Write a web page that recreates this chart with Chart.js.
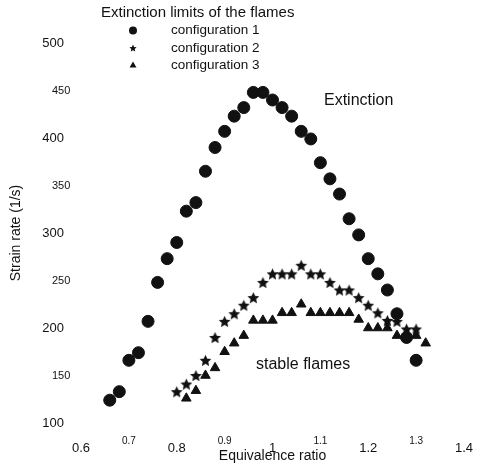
<!DOCTYPE html>
<html>
<head>
<meta charset="utf-8">
<script src="https://cdn.jsdelivr.net/npm/chart.js@4"></script>
<style>
  body { margin: 0; background: #fff; }
  #wrap { width: 480px; height: 474px; }
</style>
</head>
<body>
<div id="wrap"><canvas id="chart"></canvas></div>
<script>
// equivalence ratio / extinction strain rate
const phi1 = [0.66, 0.68, 0.70, 0.72, 0.74, 0.76, 0.78, 0.80, 0.82, 0.84, 0.86, 0.88, 0.90, 0.92, 0.94, 0.96, 0.98,
              1.00, 1.02, 1.04, 1.06, 1.08, 1.10, 1.12, 1.14, 1.16, 1.18, 1.20, 1.22, 1.24, 1.26, 1.28, 1.30];
const rate1 = [124, 133, 166, 174, 207, 248, 273, 290, 323, 332, 365, 390, 407, 423, 432, 448, 448,
               440, 432, 423, 407, 399, 374, 357, 341, 315, 298, 273, 257, 240, 215, 190, 166];

const phi2 = [0.80, 0.82, 0.84, 0.86, 0.88, 0.90, 0.92, 0.94, 0.96, 0.98, 1.00, 1.02, 1.04,
              1.06, 1.08, 1.10, 1.12, 1.14, 1.16, 1.18, 1.20, 1.22, 1.24, 1.26, 1.28, 1.30];
const rate2 = [133, 141, 150, 166, 190, 207, 215, 224, 232, 248, 257, 257, 257,
               266, 257, 257, 248, 240, 240, 232, 224, 216, 208, 207, 199, 199];

const phi3 = [0.82, 0.84, 0.86, 0.88, 0.90, 0.92, 0.94, 0.96, 0.98, 1.00, 1.02, 1.04, 1.06,
              1.08, 1.10, 1.12, 1.14, 1.16, 1.18, 1.20, 1.22, 1.24, 1.26, 1.28, 1.30, 1.32];
const rate3 = [126, 134, 150, 158, 175, 184, 192, 208, 208, 208, 216, 216, 225,
               216, 216, 216, 216, 216, 209, 200, 200, 200, 192, 192, 192, 184];

const seriesLabels = ["configuration 1", "configuration 2", "configuration 3"];
const legendTitle = "Extinction limits of the flames";

const xMajorTicks = [0.6, 0.8, 1, 1.2, 1.4];
const xMinorTicks = [0.7, 0.9, 1.1, 1.3];
const yMajorTicks = [100, 200, 300, 400, 500];
const yMinorTicks = [150, 250, 350, 450];

// text notes placed in data coordinates
const noteTexts = ["Extinction", "stable flames"];
const noteX = [1.18, 1.064];
const noteY = [439, 162];

const FONT = "'Liberation Sans', Arial, sans-serif";
const INK = "#111";

// filled five point star, used as an image point style
function starImage(r) {
  const c = document.createElement("canvas");
  const s = Math.ceil(r * 2 + 2);
  c.width = s;
  c.height = s;
  const g = c.getContext("2d");
  g.fillStyle = INK;
  g.beginPath();
  for (let i = 0; i < 10; i++) {
    const rr = i % 2 ? r * 0.47 : r;
    const a = -Math.PI / 2 + i * Math.PI / 5;
    g.lineTo(s / 2 + rr * Math.cos(a), s / 2 + r * 0.1 + rr * Math.sin(a));
  }
  g.closePath();
  g.fill();
  return c;
}

const legendStyles = ["circle", starImage(3.8), "triangle"];

function toPoints(xs, ys) {
  return xs.map((x, i) => ({ x: x, y: ys[i] }));
}

const extras = {
  id: "extras",
  afterDatasetsDraw(chart) {
    const ctx = chart.ctx;
    const xs = chart.scales.x;
    const ys = chart.scales.y;
    ctx.save();
    ctx.fillStyle = INK;
    ctx.strokeStyle = INK;
    ctx.lineWidth = 1;
    ctx.textBaseline = "middle";

    ctx.textAlign = "center";
    ctx.font = "16px " + FONT;
    noteTexts.forEach((t, i) => {
      ctx.fillText(t, xs.getPixelForValue(noteX[i]), ys.getPixelForValue(noteY[i]));
    });

    // legend block
    ctx.textAlign = "left";
    ctx.font = "15px " + FONT;
    ctx.fillText(legendTitle, 101, 13);
    ctx.font = "13.5px " + FONT;
    chart.data.datasets.forEach((ds, i) => {
      const y = 30.5 + i * 17.5;
      Chart.helpers.drawPoint(ctx, { pointStyle: legendStyles[i], radius: 4, rotation: 0, borderWidth: 0 }, 133, y);
      ctx.fillText(ds.label, 171, y);
    });
    ctx.restore();
  },
};

const hidden = { display: false, drawTicks: false };

const ctx = document.getElementById("chart").getContext("2d");
const chart = new Chart(ctx, {
  type: "scatter",
  data: {
    datasets: [
      {
        label: seriesLabels[0],
        data: toPoints(phi1, rate1),
        pointStyle: "circle",
        pointRadius: 6,
        backgroundColor: INK,
        borderColor: INK,
        borderWidth: 1,
      },
      {
        label: seriesLabels[1],
        data: toPoints(phi2, rate2),
        pointStyle: starImage(6.2),
        pointRadius: 6,
        backgroundColor: INK,
        borderColor: INK,
      },
      {
        label: seriesLabels[2],
        data: toPoints(phi3, rate3),
        pointStyle: "triangle",
        pointRadius: 5.5,
        backgroundColor: INK,
        borderColor: INK,
        borderWidth: 1,
      },
    ],
  },
  options: {
    responsive: true,
    maintainAspectRatio: false,
    animation: false,
    events: [],
    layout: { padding: { top: 43, right: 16, bottom: 0, left: 0 } },
    plugins: {
      legend: { display: false },
      tooltip: { enabled: false },
    },
    scales: {
      x: {
        type: "linear",
        position: "bottom",
        weight: 1,
        min: 0.6,
        max: 1.4,
        grid: hidden,
        border: { display: false },
        afterBuildTicks: (s) => { s.ticks = xMajorTicks.map((v) => ({ value: v })); },
        afterFit: (s) => { s.height = 37; },
        ticks: {
          autoSkip: false,
          maxRotation: 0,
          padding: 4,
          color: INK,
          font: { family: FONT, size: 13 },
          callback: (v) => String(v),
        },
        title: {
          display: true,
          text: "Equivalence ratio",
          color: INK,
          font: { family: FONT, size: 14 },
          padding: { top: 0, bottom: 9 },
        },
      },
      // odd ticks sit a little higher and smaller; mirrored so they are not clipped
      x2: {
        type: "linear",
        position: "bottom",
        weight: 0,
        min: 0.6,
        max: 1.4,
        grid: hidden,
        border: { display: false },
        afterBuildTicks: (s) => { s.ticks = xMinorTicks.map((v) => ({ value: v })); },
        afterFit: (s) => { s.height = 14; },
        ticks: {
          autoSkip: false,
          maxRotation: 0,
          mirror: true,
          padding: -24.5,
          color: INK,
          font: { family: FONT, size: 10 },
          callback: (v) => String(v),
        },
      },
      y: {
        type: "linear",
        position: "left",
        weight: 1,
        min: 100,
        max: 500,
        grid: hidden,
        border: { display: false },
        afterBuildTicks: (s) => { s.ticks = yMajorTicks.map((v) => ({ value: v })); },
        afterFit: (s) => { s.width = 81; },
        ticks: {
          autoSkip: false,
          padding: 17,
          color: INK,
          font: { family: FONT, size: 13 },
          callback: (v) => String(v),
        },
        title: {
          display: true,
          text: "Strain rate (1/s)",
          color: INK,
          font: { family: FONT, size: 14 },
          padding: { top: 8, bottom: 0 },
        },
      },
      y2: {
        type: "linear",
        position: "left",
        weight: 0,
        min: 100,
        max: 500,
        grid: hidden,
        border: { display: false },
        afterBuildTicks: (s) => { s.ticks = yMinorTicks.map((v) => ({ value: v })); },
        afterFit: (s) => { s.width = 0; },
        ticks: {
          autoSkip: false,
          mirror: true,
          padding: -29,
          color: INK,
          font: { family: FONT, size: 11 },
          callback: (v) => String(v),
        },
      },
    },
  },
  plugins: [extras],
});
</script>
</body>
</html>
